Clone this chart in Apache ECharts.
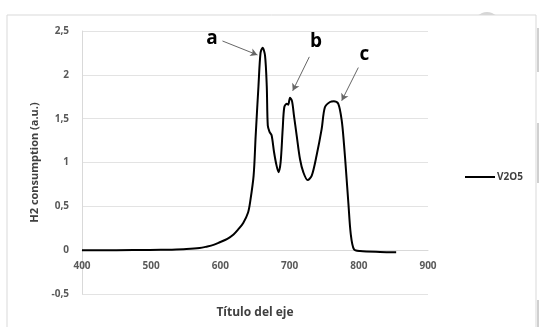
<!DOCTYPE html>
<html><head><meta charset="utf-8">
<script src="https://cdn.jsdelivr.net/npm/echarts@6/dist/echarts.min.js"></script>
<style>html,body{margin:0;padding:0;background:#fff}#c{width:539px;height:327px}</style>
</head><body><div id="c"></div>
<script>
var seriesName = 'V2O5';
var temps = [400,450,498,530,551,570,580,590,599,610,619,626,633,640,643,648,651,655,658,661,664.5,667,668.5,671,674,677.5,681,684,687,690,692.3,695.8,698,700.6,703.5,706.4,710.2,715,719.8,726,732,739,746.3,751,758.4,764,770.4,775.3,778.6,781.5,785,788.3,793,801.7,830.6,854];
var h2 = [0,0,0.002,0.006,0.012,0.024,0.04,0.06,0.09,0.13,0.18,0.24,0.31,0.43,0.55,0.85,1.31,1.87,2.25,2.31,2.22,1.87,1.42,1.35,1.31,1.12,0.97,0.89,1.0,1.38,1.63,1.67,1.66,1.74,1.70,1.53,1.31,1.04,0.89,0.80,0.85,1.08,1.38,1.63,1.69,1.70,1.67,1.48,1.21,0.91,0.53,0.19,0.01,-0.01,-0.02,-0.023];
var yTicks = ['-0,5','0','0,5','1','1,5','2','2,5'];
var xTicks = ['400','500','600','700','800','900'];
var annoLetters = ['a','b','c'];
var annoLabelPos = [[588,2.415],[738,2.38],[808,2.227]];
var annoArrows = [[[603,2.386],[653.5,2.227]],[[728.5,2.205],[704.5,1.818]],[[799.3,2.083],[775.3,1.705]]];

var data = temps.map(function(t,i){return [t,h2[i]];});
var chart = echarts.init(document.getElementById('c'));
var font = '"Open Sans", "Noto Sans", sans-serif';
chart.setOption({
  animation:false,
  backgroundColor:'#fff',
  graphic:[
    {type:'circle',shape:{cx:487,cy:25,r:13},style:{fill:'#d6d6d6'},z:-10},
    {type:'rect',shape:{x:7,y:15,width:529,height:330},style:{fill:'#fff',stroke:'#d9d9d9',lineWidth:1},z:-5},
    {type:'rect',shape:{x:537,y:28,width:2,height:44},style:{fill:'#d0d0d0'},z:-5},
    {type:'rect',shape:{x:537,y:123,width:2,height:60},style:{fill:'#d0d0d0'},z:-5},
    {type:'rect',shape:{x:537,y:300,width:2,height:27},style:{fill:'#d0d0d0'},z:-5}
  ],
  grid:{left:82,right:111,top:31,bottom:33,containLabel:false,outerBoundsMode:'none'},
  legend:{
    data:[seriesName],left:460,top:167,orient:'vertical',
    itemWidth:30,itemHeight:14,itemGap:4,icon:'path://M0,6 L30,6 L30,8 L0,8 Z',
    textStyle:{fontFamily:font,fontWeight:'bold',fontSize:10,color:'#404040',padding:[0,0,0,-3]}
  },
  xAxis:{
    type:'value',min:400,max:900,interval:100,
    name:'Título del eje',nameLocation:'middle',nameGap:56,
    nameTextStyle:{fontFamily:font,fontWeight:'bold',fontSize:12,color:'#404040'},
    axisLine:{show:true,onZero:false,lineStyle:{color:'#d9d9d9',width:1}},
    axisTick:{show:false},splitLine:{show:false},
    axisLabel:{fontFamily:font,fontWeight:'bold',fontSize:10,color:'#595959',margin:11,
      formatter:function(v){return xTicks[Math.round((v-400)/100)];}}
  },
  yAxis:{
    type:'value',min:-0.5,max:2.5,interval:0.5,
    name:'H2 consumption (a.u.)',nameLocation:'middle',nameGap:42,nameRotate:90,
    nameTextStyle:{fontFamily:font,fontWeight:'bold',fontSize:11,color:'#404040'},
    axisLine:{show:true,onZero:false,lineStyle:{color:'#d9d9d9'}},axisTick:{show:false},
    splitLine:{show:true,lineStyle:{color:'#e3e3e3',width:1}},
    axisLabel:{fontFamily:font,fontWeight:'bold',fontSize:10,color:'#595959',margin:13,
      formatter:function(v){return yTicks[Math.round((v+0.5)/0.5)];}}
  },
  series:[{
    name:seriesName,type:'line',data:data,smooth:0.3,showSymbol:false,
    lineStyle:{color:'#000',width:2},itemStyle:{color:'#000'},
    markPoint:{
      symbol:'circle',symbolSize:1,itemStyle:{color:'rgba(0,0,0,0)'},
      label:{show:true,position:'inside',fontFamily:font,fontWeight:'bold',fontSize:19,color:'#000',
        formatter:function(p){return p.name;}},
      data:annoLetters.map(function(l,i){return {name:l,coord:annoLabelPos[i]};})
    },
    markLine:{
      silent:true,symbol:['none','arrow'],symbolSize:[6,7],
      lineStyle:{color:'#666',width:1,type:'solid'},label:{show:false},
      data:annoArrows.map(function(a){return [{coord:a[0]},{coord:a[1]}];})
    }
  }]
});
var yBottom = chart.convertToPixel({yAxisIndex:0}, -0.5);
var yZero = chart.convertToPixel({yAxisIndex:0}, 0);
chart.setOption({xAxis:{offset:-(yBottom - yZero)}});
</script></body></html>
